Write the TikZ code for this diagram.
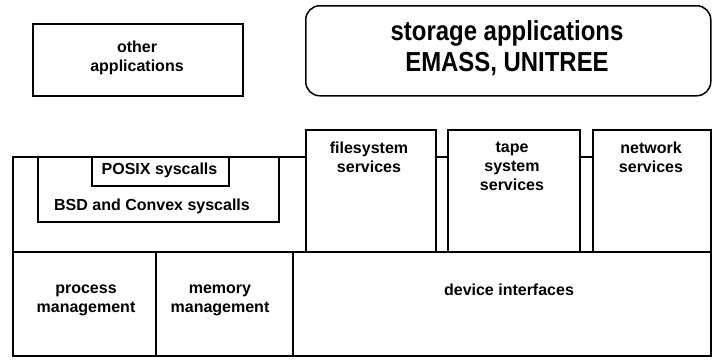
\documentclass[tikz,border=0pt]{standalone}
\usepackage{fontspec}
\setmainfont{Liberation Sans}
\newfontfamily\bigfont[FakeStretch=0.87]{Liberation Sans}
\begin{document}
\begin{tikzpicture}[x=1pt,y=-1pt,
  box/.style={draw=black,line width=1.5pt,fill=white,rectangle,inner sep=0pt,anchor=north west},
  txt/.style={align=center,inner sep=0pt,font=\fontsize{16}{19}\selectfont\bfseries},
  bigtxt/.style={align=center,inner sep=0pt,font=\fontsize{27.5}{31}\selectfont\bigfont\bfseries}]
\useasboundingbox[fill=white] (0,0) rectangle (712,360);

% top applications
\node[box,minimum width=210pt,minimum height=72pt] (other) at (32,23) {};
\node[txt] (othert) at (137,58) {other\\applications};
\node[box,rounded corners=14pt,minimum width=405pt,minimum height=90pt] (storage) at (305,5) {};
\node[bigtxt] (storaget) at (507,48) {storage applications\\EMASS, UNITREE};

% kernel region
\node[box,minimum width=698pt,minimum height=95pt] (kernel) at (12,156) {};
\node[box,minimum width=241pt,minimum height=65pt] (bsd) at (37,156) {};
\node[box,minimum width=137pt,minimum height=29pt] (posix) at (91,156) {};
\node[txt] (posixt) at (159.5,170) {POSIX syscalls};
\node[txt] (bsdt) at (152,206) {BSD and Convex syscalls};

% service boxes
\node[box,minimum width=130pt,minimum height=122pt] (fs) at (305,129) {};
\node[box,minimum width=132pt,minimum height=122pt] (tape) at (447,129) {};
\node[box,minimum width=118pt,minimum height=122pt] (net) at (592,129) {};
\node[txt,anchor=north] (fst) at (369,142) {filesystem\\services};
\node[txt,anchor=north] (tapet) at (512,142) {tape\\system\\services};
\node[txt,anchor=north] (nett) at (651,142) {network\\services};

% bottom row
\node[box,minimum width=143pt,minimum height=104pt] (proc) at (12,251) {};
\node[box,minimum width=137pt,minimum height=104pt] (mem) at (155,251) {};
\node[box,minimum width=418pt,minimum height=104pt] (dev) at (292,251) {};
\node[txt] (proct) at (86,300) {process\\management};
\node[txt] (memt) at (220,300) {memory\\management};
\node[txt] (devt) at (509,290) {device interfaces};
\end{tikzpicture}
\end{document}
